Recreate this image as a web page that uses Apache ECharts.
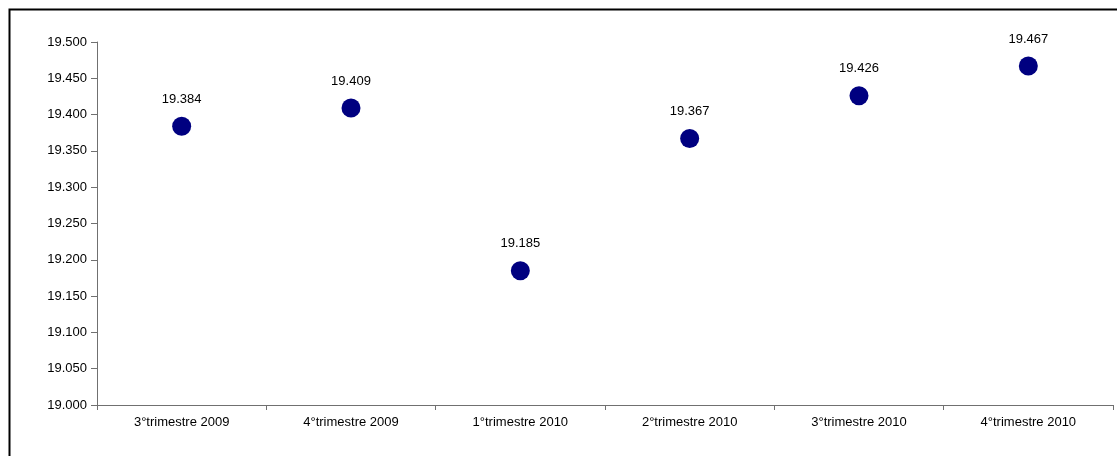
<!DOCTYPE html>
<html><head><meta charset="utf-8">
<script src="https://cdn.jsdelivr.net/npm/echarts@6/dist/echarts.min.js"></script>
<style>html,body{margin:0;padding:0;background:#fff}#c{width:1117px;height:456px}</style>
</head><body><div id="c"></div>
<script>
const categories = ["3°trimestre 2009","4°trimestre 2009","1°trimestre 2010","2°trimestre 2010","3°trimestre 2010","4°trimestre 2010"];
const values = [19.384, 19.409, 19.185, 19.367, 19.426, 19.467];
const yMin = 19.0, yMax = 19.5, yStep = 0.05;

const chart = echarts.init(document.getElementById('c'));
const font = 'Liberation Sans, Arial, sans-serif';
chart.setOption({
  animation: false,
  graphic: [{type:'rect', shape:{x:9.5, y:9.5, width:1200, height:600}, style:{fill:'none', stroke:'#000', lineWidth:2}, z:-1}],
  grid: {left: 97, right: 4, top: 42, bottom: 51, containLabel: false},
  xAxis: {
    type: 'category', data: categories, boundaryGap: true,
    axisLine: {lineStyle: {color: '#707070', width: 1}},
    axisTick: {show: true, length: 5, lineStyle: {color: '#707070'}, alignWithLabel: false},
    axisLabel: {color: '#000', fontFamily: font, fontSize: 13, margin: 11}
  },
  yAxis: {
    type: 'value', min: yMin, max: yMax, interval: yStep,
    axisLine: {show: true, lineStyle: {color: '#707070', width: 1}},
    axisTick: {show: true, length: 6, lineStyle: {color: '#707070'}},
    splitLine: {show: false},
    axisLabel: {color: '#000', fontFamily: font, fontSize: 13, margin: 10,
      formatter: v => v.toFixed(3)}
  },
  series: [{
    type: 'scatter', data: values, symbol: 'circle', symbolSize: 19,
    itemStyle: {color: '#000080', opacity: 1},
    label: {show: true, position: 'top', distance: 11, color: '#000', fontFamily: font, fontSize: 13,
      formatter: p => p.value.toFixed(3)},
    emphasis: {disabled: true}
  }]
});
</script></body></html>
